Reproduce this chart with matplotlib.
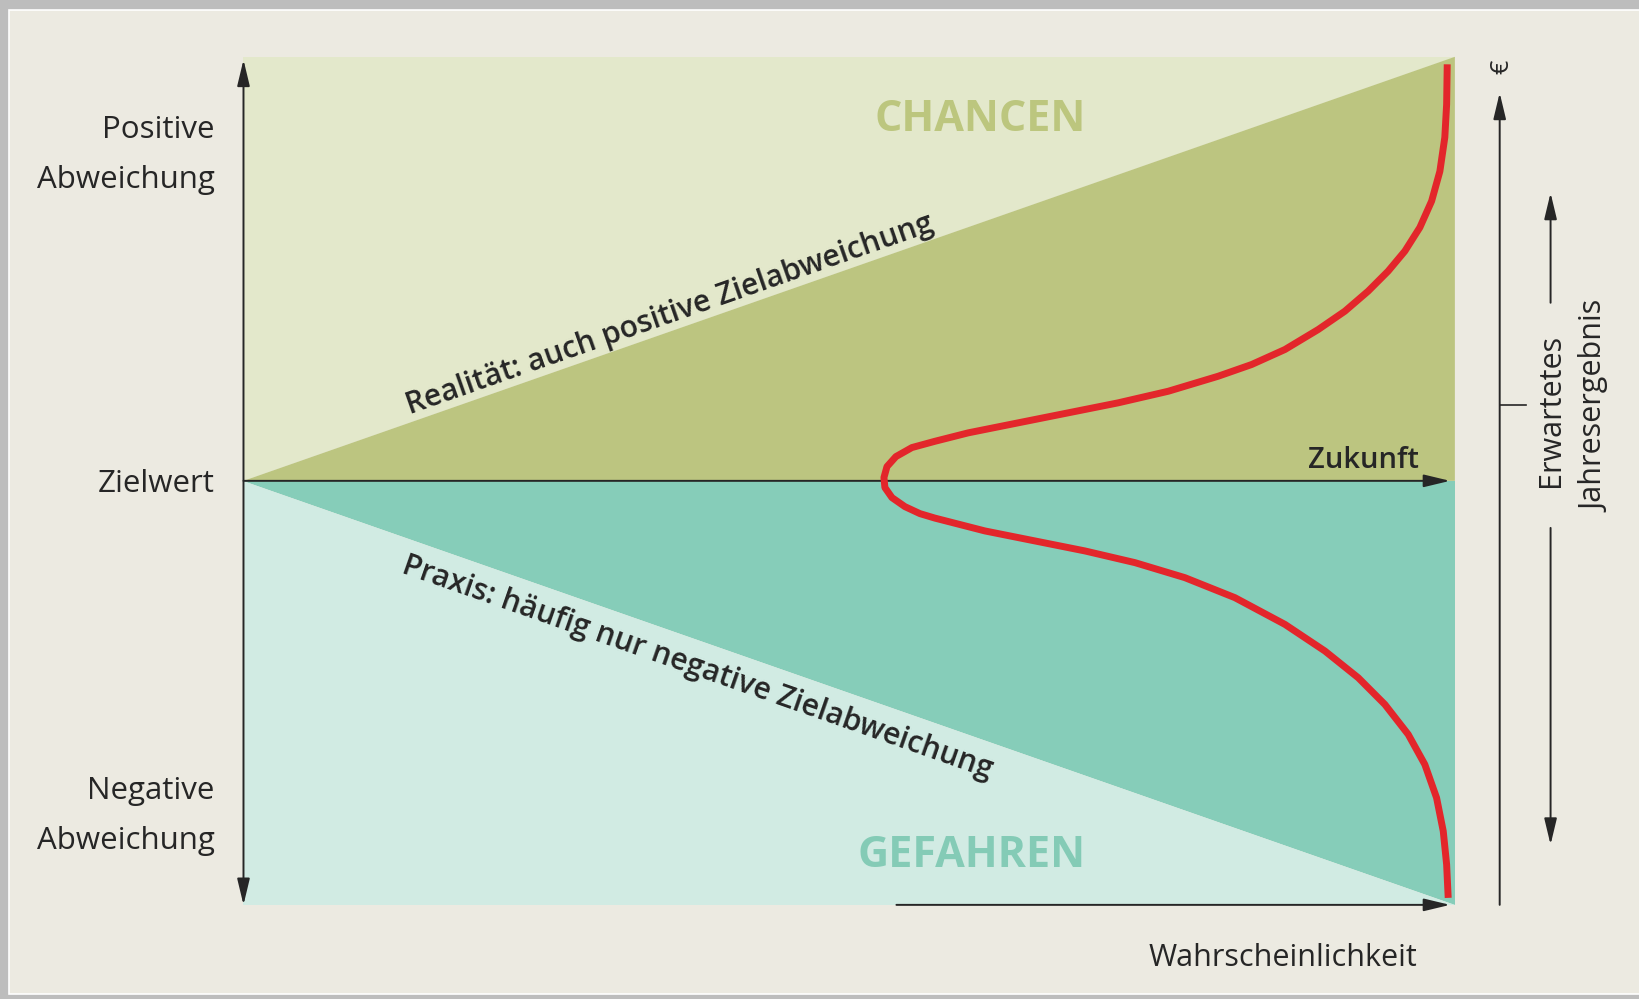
import matplotlib
matplotlib.use("Agg")
import matplotlib.pyplot as plt
from matplotlib import font_manager as fm
from matplotlib.patches import Rectangle
import numpy as np

# pick a font that is close to the Myriad look of the original
installed = {f.name for f in fm.fontManager.ttflist}
font = next((f for f in ["Open Sans", "Noto Sans", "Lato", "Liberation Sans"] if f in installed), "DejaVu Sans")
plt.rcParams['font.family'] = [font, 'DejaVu Sans']

# chart values (x = Wahrscheinlichkeit / Zukunft 0..100, y = Abweichung -100..100)
x_range = [0, 100]
dev_top, dev_mid, dev_bot = 100, 0, -100

# red probability curve (top to bottom)
curve_x = [99.37, 99.32, 99.17, 98.76, 98.08, 97.11, 95.87, 94.49, 92.84, 90.92, 88.72, 85.97,
           83.22, 80.46, 76.34, 72.21, 68.08, 63.95, 59.83, 57.08, 55.18, 53.86, 53.12, 52.87,
           52.95, 53.53, 54.60, 55.84, 57.08, 61.20, 65.33, 69.46, 73.59, 77.71, 81.84, 85.97,
           89.27, 92.02, 94.22, 96.15, 97.52, 98.49, 99.04, 99.32, 99.45]
curve_y = [98.23, 88.79, 81.00, 72.98, 65.97, 59.76, 54.17, 49.45, 44.73, 40.01, 35.69, 30.97,
           27.43, 24.67, 21.13, 18.40, 16.04, 13.68, 11.32, 9.33, 7.85, 5.72, 3.36, 0.77,
           -1.59, -3.95, -6.08, -7.73, -8.79, -11.81, -14.17, -16.53, -19.29, -22.83, -27.55, -33.85,
           -40.13, -46.43, -52.73, -59.81, -66.89, -74.75, -82.61, -90.49, -98.35]

left_labels = ["Positive", "Abweichung", "Zielwert", "Negative", "Abweichung"]
left_label_y = [80.9, 69.1, -2.6, -75.0, -86.8]

bg = '#ECEAE1'
light_green = '#E3E8CB'
olive = '#BCC580'
teal = '#86CDB9'
light_teal = '#D1EBE3'
red = '#E3262B'
ink = '#262626'

fig = plt.figure(figsize=(16.39, 9.99), dpi=100, facecolor='#BDBDBD')
fig.patches.append(Rectangle((9 / 1639, 5 / 999), 1.0, (999 - 15) / 999, transform=fig.transFigure,
                             facecolor=bg, edgecolor='white', lw=1.2, zorder=-5))

ax = fig.add_axes([0, 0, 1, 1])
ax.set_xlim(-20.1, 115.2)
ax.set_ylim(-122.2, 113.4)
ax.axis('off')

x0, x1 = x_range
# four triangles
ax.fill([x0, x0, x1], [dev_mid, dev_top, dev_top], color=light_green, lw=0)
ax.fill([x0, x1, x1], [dev_mid, dev_top, dev_mid], color=olive, lw=0)
ax.fill([x0, x1, x1], [dev_mid, dev_mid, dev_bot], color=teal, lw=0)
ax.fill([x0, x0, x1], [dev_mid, dev_bot, dev_bot], color=light_teal, lw=0)

ax.plot(curve_x, curve_y, color=red, lw=5.0, solid_capstyle='butt', solid_joinstyle='round', zorder=5)


def arrow(xa, ya, xb, yb, style='-|>'):
    ax.annotate('', xy=(xb, yb), xytext=(xa, ya), annotation_clip=False,
                arrowprops=dict(arrowstyle=f'{style},head_length=1.0,head_width=0.24',
                                mutation_scale=16, lw=1.4, color=ink, shrinkA=0, shrinkB=0))


arrow(0, -100, 0, 99.3, style='<|-|>')
arrow(0, 0, 99.6, 0)
arrow(53.9, -100, 99.6, -100)
arrow(103.7, -100, 103.7, 91.5)
ax.plot([103.7, 105.9], [17.8, 17.8], color=ink, lw=1.2)
arrow(107.9, 42.0, 107.9, 67.9)
arrow(107.9, -11.1, 107.9, -85.8)

# labels
for s, yv in zip(left_labels, left_label_y):
    ax.text(-2.4, yv, s, ha='right', va='baseline', fontsize=22.5, color=ink)

ax.text(97.0, 3.1, 'Zukunft', ha='right', va='baseline', fontsize=21, fontweight='semibold', color=ink)
ax.text(96.9, -114.4, 'Wahrscheinlichkeit', ha='right', va='baseline', fontsize=22, color=ink)
ax.text(69.5, 82.4, 'CHANCEN', ha='right', va='baseline', fontsize=31, fontweight='bold', color='#BCC67E')
ax.text(69.5, -91.1, 'GEFAHREN', ha='right', va='baseline', fontsize=31, fontweight='bold', color='#84CBB6')

ax.text(103.9, 97.6, '€', rotation=90, ha='center', va='center', fontsize=18, color=ink)
ax.text(107.9, 16.5, 'Erwartetes', rotation=90, ha='center', va='center', fontsize=22, color=ink)
ax.text(111.6, 17.6, 'Jahresergebnis', rotation=90, ha='center', va='center', fontsize=22, color=ink)

# diagonal captions follow the triangle edges
p0 = ax.transData.transform((x0, dev_mid))
p1 = ax.transData.transform((x1, dev_top))
ang = np.degrees(np.arctan2(p1[1] - p0[1], p1[0] - p0[0]))
sn, cs = np.sin(np.radians(ang)), np.cos(np.radians(ang))
d = 8 * 0.72
ax.annotate('Realität: auch positive Zielabweichung', xy=(35.6, 35.6), xytext=(-sn * d, cs * d),
            textcoords='offset points', rotation=ang, rotation_mode='anchor',
            ha='center', va='baseline', fontsize=21.7, fontweight='semibold', color=ink)
d = 34 * 0.72
ax.annotate('Praxis: häufig nur negative Zielabweichung', xy=(38.2, -38.2), xytext=(-sn * d, -cs * d),
            textcoords='offset points', rotation=-ang, rotation_mode='anchor',
            ha='center', va='baseline', fontsize=21.7, fontweight='semibold', color=ink)

fig.savefig('out.png', dpi=100, facecolor=fig.get_facecolor())
